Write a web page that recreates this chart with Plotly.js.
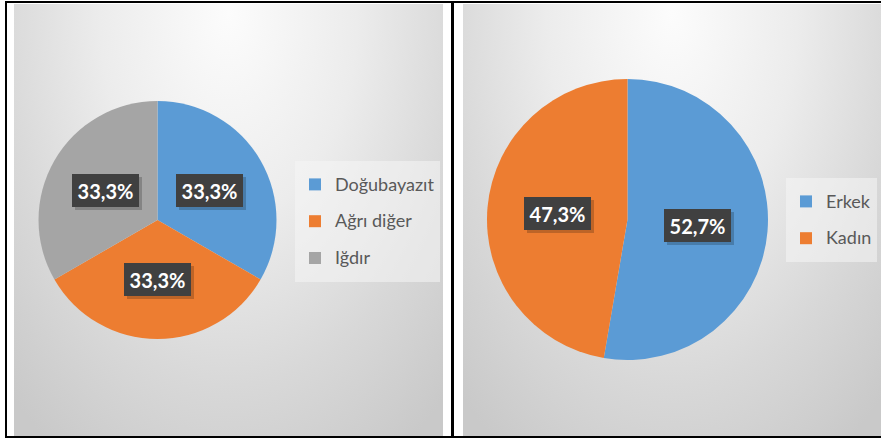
<!DOCTYPE html>
<html>
<head>
<meta charset="utf-8">
<script src="https://cdn.plot.ly/plotly-3.0.1.min.js"></script>
<style>
  html, body { margin: 0; padding: 0; background: #ffffff; }
  #wrap { position: relative; width: 881px; height: 438px; overflow: hidden; }
  .panel { position: absolute; top: 4px; height: 432px;
    background: radial-gradient(ellipse 75% 120% at 50% 2%, #fcfcfc 0%, #ececec 40%, #d8d8d8 72%, #c9c9c9 100%); }
  .line { position: absolute; background: #000; }
  #chart { position: absolute; left: 0; top: 0; width: 881px; height: 438px; }
</style>
</head>
<body>
<div id="wrap">
  <div class="panel" style="left:14px; width:429px;"></div>
  <div class="panel" style="left:463px; width:418px;"></div>
  <div class="line" style="left:5px; top:1px; width:876px; height:2px;"></div>
  <div class="line" style="left:5px; top:1px; width:2px; height:437px;"></div>
  <div class="line" style="left:5px; top:436px; width:876px; height:2px;"></div>
  <div class="line" style="left:451px; top:1px; width:3px; height:437px;"></div>
  <div id="chart"></div>
</div>
<script>
// ---- data ----
var regionLabels = ["Doğubayazıt", "Ağrı diğer", "Iğdır"];
var regionValues = [1, 1, 1];
var genderLabels = ["Erkek", "Kadın"];
var genderValues = [52.7, 47.3];
var regionColors = ["#5b9bd5", "#ed7d31", "#a5a5a5"];
var genderColors = ["#5b9bd5", "#ed7d31"];

// ---- layout geometry (px) ----
var W = 881, H = 438;
var pie1 = {cx: 157.5, cy: 220, r: 119};
var pie2 = {cx: 627.5, cy: 219.5, r: 140.5};

function domainOf(p) {
  return {
    x: [(p.cx - p.r) / W, (p.cx + p.r) / W],
    y: [(H - p.cy - p.r) / H, (H - p.cy + p.r) / H]
  };
}
function legendText(arr) {
  return arr.map(function (s) { return '<span style="font-size:18px;baseline-shift:4px">' + s + '</span>'; });
}
function pctText(v, total) {
  return (v / total * 100).toFixed(1).replace('.', ',') + '%';
}

var traces = [
  {
    type: 'pie', labels: legendText(regionLabels), values: regionValues,
    marker: {colors: regionColors, line: {width: 0}},
    sort: false, direction: 'clockwise', rotation: 0,
    textinfo: 'none', hoverinfo: 'label+percent',
    domain: domainOf(pie1), legend: 'legend'
  },
  {
    type: 'pie', labels: legendText(genderLabels), values: genderValues,
    marker: {colors: genderColors, line: {width: 0}},
    sort: false, direction: 'clockwise', rotation: 0,
    textinfo: 'none', hoverinfo: 'label+percent',
    domain: domainOf(pie2), legend: 'legend2'
  }
];

// data label annotations, positioned from the slice mid-angles
var annotations = [];
function addLabels(p, values) {
  var total = values.reduce(function (a, b) { return a + b; }, 0);
  var cum = 0;
  values.forEach(function (v) {
    var mid = (cum + v / 2) / total * 2 * Math.PI;
    cum += v;
    var d = 0.5 * p.r;
    var px = p.cx + d * Math.sin(mid);
    var py = p.cy - d * Math.cos(mid);
    var base = {
      xref: 'paper', yref: 'paper', x: px / W, y: (H - py) / H,
      xanchor: 'center', yanchor: 'middle', showarrow: false,
      width: 67, height: 33, borderpad: 0, borderwidth: 0
    };
    annotations.push(Object.assign({}, base, {
      text: ' ', bgcolor: 'rgba(0,0,0,0.2)', xshift: 3, yshift: -3
    }));
    annotations.push(Object.assign({}, base, {
      text: '<b>' + pctText(v, total) + '</b>', bgcolor: '#404040',
      font: {family: 'Lato, "Open Sans", sans-serif', size: 20, color: '#ffffff'}
    }));
  });
}
addLabels(pie1, regionValues);
addLabels(pie2, genderValues);

var legendFont = {family: 'Lato, "Open Sans", sans-serif', size: 26, color: '#595959'};
var layout = {
  width: W, height: H,
  margin: {l: 0, r: 0, t: 0, b: 0},
  paper_bgcolor: 'rgba(0,0,0,0)', plot_bgcolor: 'rgba(0,0,0,0)',
  showlegend: true,
  legend: {x: 295 / W, y: (H - 161) / H, xanchor: 'left', yanchor: 'top',
    bgcolor: 'rgba(246,246,246,0.55)', font: legendFont, traceorder: 'normal'},
  legend2: {x: 786 / W, y: (H - 178) / H, xanchor: 'left', yanchor: 'top',
    bgcolor: 'rgba(246,246,246,0.55)', font: legendFont, traceorder: 'normal'},
  annotations: annotations
};

Plotly.newPlot('chart', traces, layout, {displayModeBar: false, staticPlot: true});
</script>
</body>
</html>
